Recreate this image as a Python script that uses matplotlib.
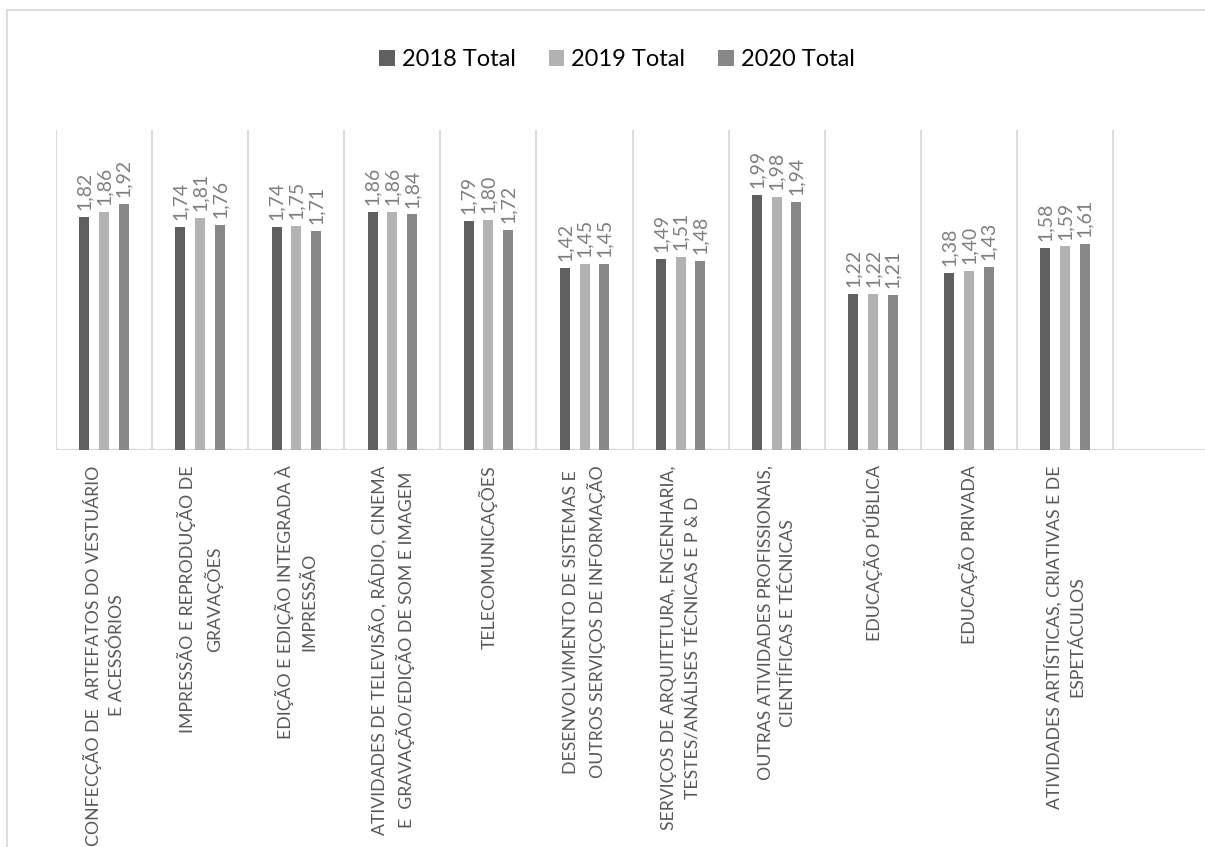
import numpy as np
import matplotlib
matplotlib.use("Agg")
import matplotlib.pyplot as plt
from matplotlib.lines import Line2D

categories = [
    "CONFECÇÃO DE  ARTEFATOS DO VESTUÁRIO\nE ACESSÓRIOS",
    "IMPRESSÃO E REPRODUÇÃO DE\nGRAVAÇÕES",
    "EDIÇÃO E EDIÇÃO INTEGRADA À\nIMPRESSÃO",
    "ATIVIDADES DE TELEVISÃO, RÁDIO, CINEMA\nE  GRAVAÇÃO/EDIÇÃO DE SOM E IMAGEM",
    "TELECOMUNICAÇÕES",
    "DESENVOLVIMENTO DE SISTEMAS E\nOUTROS SERVIÇOS DE INFORMAÇÃO",
    "SERVIÇOS DE ARQUITETURA, ENGENHARIA,\nTESTES/ANÁLISES TÉCNICAS E P & D",
    "OUTRAS ATIVIDADES PROFISSIONAIS,\nCIENTÍFICAS E TÉCNICAS",
    "EDUCAÇÃO PÚBLICA",
    "EDUCAÇÃO PRIVADA",
    "ATIVIDADES ARTÍSTICAS, CRIATIVAS E DE\nESPETÁCULOS",
]
series_names = ["2018 Total", "2019 Total", "2020 Total"]
total_2018 = [1.82, 1.74, 1.74, 1.86, 1.79, 1.42, 1.49, 1.99, 1.22, 1.38, 1.58]
total_2019 = [1.86, 1.81, 1.75, 1.86, 1.80, 1.45, 1.51, 1.98, 1.22, 1.40, 1.59]
total_2020 = [1.92, 1.76, 1.71, 1.84, 1.72, 1.45, 1.48, 1.94, 1.21, 1.43, 1.61]
colors = ["#606060", "#b2b2b2", "#878787"]

plt.rcParams["font.family"] = ["Lato", "DejaVu Sans"]

W, H = 1205, 847
fig = plt.figure(figsize=(W / 100, H / 100), dpi=100)

# plot area in pixels: x 56 -> 12 slots of ~96.1 px, y 130 -> 450
slot = 96.1
ax = fig.add_axes([56 / W, (H - 450) / H, 12 * slot / W, 320 / H])
ax.set_xlim(-0.5, 11.5)
ax.set_ylim(0, 2.5)

x = np.arange(len(categories))
offset = 0.205
width = 0.105
for i, (vals, name) in enumerate(zip([total_2018, total_2019, total_2020], series_names)):
    pos = x + (i - 1) * offset
    ax.bar(pos, vals, width=width, color=colors[i], label=name, zorder=3)
    for px, v in zip(pos, vals):
        ax.annotate(f"{v:.2f}".replace(".", ","), (px, v), xytext=(0, 5),
                    textcoords="offset points", rotation=90, ha="center",
                    va="bottom", fontsize=14, color="#7f7f7f")

# category separators
ax.vlines(np.arange(-0.5, len(categories)), 0, 2.5, colors="#d9d9d9",
          linewidth=1.3, zorder=1)
for s in ax.spines.values():
    s.set_visible(False)
ax.axhline(0, color="#d9d9d9", linewidth=1.5, zorder=2)
ax.set_yticks([])
ax.set_xticks(x)
ax.set_xticklabels(categories, rotation=90, fontsize=12.7, color="#595959",
                   ha="center", va="top", multialignment="center",
                   linespacing=1.5)
ax.tick_params(axis="x", length=0, pad=11)

fig.legend(loc="center", bbox_to_anchor=(617 / W, 1 - 60 / H), ncol=3,
           frameon=False, fontsize=17, handlelength=0.65, handleheight=0.65,
           handletextpad=0.3, columnspacing=1.4, labelcolor="#000000")

# outer chart frame (cropped)
fig.add_artist(Line2D([7 / W, 7 / W], [0, 1 - 10 / H], color="#d9d9d9", linewidth=1.3))
fig.add_artist(Line2D([7 / W, 1], [1 - 10 / H, 1 - 10 / H], color="#d9d9d9", linewidth=1.3))

fig.savefig("out.png", dpi=100)
